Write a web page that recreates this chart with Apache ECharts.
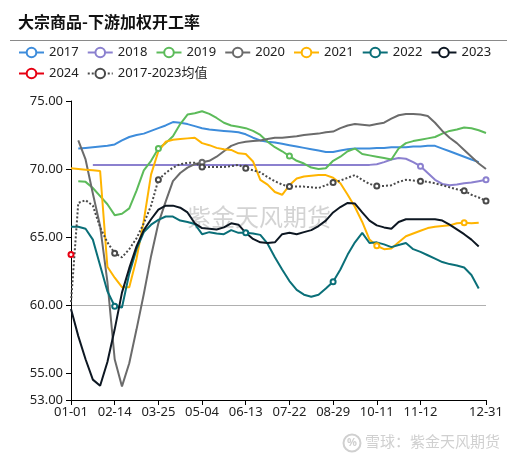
<!DOCTYPE html>
<html>
<head>
<meta charset="utf-8">
<script src="https://cdn.jsdelivr.net/npm/echarts@6/dist/echarts.min.js"></script>
<style>
html,body{margin:0;padding:0;background:#fff;}
#chart{width:517px;height:460px;}
</style>
</head>
<body>
<div id="chart"></div>
<script>
const dates = ['01-01','01-08','01-15','01-22','01-29','02-07','02-14','02-21','02-28','03-07','03-14','03-18','03-25','04-01','04-08','04-15','04-22','04-28','05-04','05-11','05-18','05-25','06-01','06-07','06-13','06-20','06-27','07-04','07-11','07-16','07-22','07-29','08-05','08-12','08-19','08-23','08-29','09-05','09-12','09-19','09-26','10-04','10-11','10-18','10-25','10-30','11-03','11-08','11-12','11-19','11-26','12-03','12-08','12-13','12-17','12-21','12-26','12-31'];

const yTickValues = [53, 55, 60, 65, 70, 75];
const seriesNames = ['2017','2018','2019','2020','2021','2022','2023','2024','2017-2023均值'];

const y2017 = [null,71.5,71.55,71.6,71.65,71.7,71.8,72.1,72.35,72.5,72.6,72.8,73.0,73.2,73.45,73.4,73.3,73.15,73.0,72.9,72.85,72.8,72.75,72.7,72.55,72.3,72.1,72.0,71.95,71.85,71.75,71.65,71.55,71.45,71.35,71.25,71.25,71.35,71.45,71.5,71.5,71.5,71.55,71.55,71.6,71.6,71.6,71.65,71.65,71.7,71.7,71.5,71.3,71.1,70.9,70.7,70.5,null];
const y2018 = [null,null,null,70.3,70.3,70.3,70.3,70.3,70.3,70.3,70.3,70.3,70.3,70.3,70.3,70.3,70.3,70.3,70.3,70.3,70.3,70.3,70.3,70.3,70.3,70.3,70.3,70.3,70.3,70.3,70.3,70.3,70.3,70.3,70.3,70.3,70.3,70.3,70.3,70.3,70.3,70.3,70.35,70.5,70.7,70.8,70.75,70.5,70.2,69.7,69.2,68.9,68.8,68.85,68.95,69.0,69.1,69.2];
const y2019 = [null,69.1,69.05,68.6,68.0,67.4,66.6,66.7,67.1,68.4,69.9,70.6,71.5,71.9,72.4,73.3,74.0,74.1,74.25,74.05,73.75,73.4,73.2,73.1,73.0,72.8,72.5,72.0,71.6,71.3,70.95,70.6,70.4,70.1,70.0,70.05,70.6,70.9,71.3,71.5,71.1,71.0,70.9,70.8,70.7,71.5,71.9,72.05,72.15,72.25,72.35,72.6,72.8,72.9,73.05,73.0,72.85,72.65];
const y2020 = [null,72.1,70.7,68.2,65.8,61.7,56.0,54.0,55.7,58.2,60.8,63.6,66.0,67.6,69.1,69.7,70.1,70.35,70.5,70.6,70.9,71.3,71.7,71.9,72.0,72.05,72.1,72.2,72.3,72.3,72.35,72.4,72.5,72.55,72.6,72.7,72.75,73.0,73.2,73.3,73.25,73.2,73.3,73.4,73.7,73.95,74.05,74.05,74.0,73.9,73.4,72.8,72.3,71.9,71.4,70.9,70.4,70.0];
const y2021 = [70.05,70.0,69.95,69.9,69.85,62.8,62.0,61.3,61.3,63.4,66.2,69.6,71.3,72.0,72.15,72.2,72.25,72.3,71.9,71.75,71.55,71.45,71.4,71.15,71.1,70.55,69.2,68.85,68.3,68.1,68.8,69.3,69.45,69.5,69.55,69.55,69.35,68.95,68.1,67.2,66.1,64.8,64.35,64.1,64.15,64.6,65.05,65.25,65.45,65.65,65.75,65.8,65.85,66.0,66.05,66.0,66.05,null];
const y2022 = [65.75,65.75,65.6,64.8,62.9,61.0,59.9,59.8,62.3,64.1,65.35,65.9,66.25,66.5,66.5,66.2,66.1,65.95,65.2,65.35,65.25,65.2,65.5,65.3,65.3,65.25,65.15,64.5,63.5,62.6,61.75,61.1,60.75,60.6,60.75,61.2,61.7,62.6,63.7,64.6,65.3,64.55,64.6,64.45,64.25,64.4,64.55,64.1,63.9,63.65,63.4,63.15,63.0,62.9,62.75,62.2,61.2,null];
const y2023 = [59.7,57.7,56.0,54.5,54.05,55.8,58.2,60.9,62.7,64.3,65.5,66.3,67.0,67.3,67.3,67.15,66.8,66.0,65.65,65.6,65.55,65.7,66.0,65.9,65.3,64.85,64.6,64.55,64.6,65.2,65.3,65.2,65.35,65.5,65.8,66.2,66.8,67.2,67.5,67.45,66.8,66.2,65.85,65.7,65.6,66.1,66.3,66.3,66.3,66.3,66.3,66.2,65.9,65.55,65.2,64.8,64.3,null];
const y2024 = [63.7];
const yAvg = [60.2,67.5,67.7,67.3,65.7,64.6,63.8,63.5,64.1,64.9,66.0,67.3,69.2,69.7,70.1,70.35,70.45,70.45,70.15,70.15,70.15,70.15,70.2,70.3,70.05,69.9,69.75,69.4,69.1,68.85,68.7,68.7,68.7,68.65,68.6,68.8,69.0,69.15,69.35,69.55,69.2,68.9,68.75,68.75,68.8,69.05,69.2,69.15,69.1,69.05,68.95,68.8,68.65,68.5,68.4,68.1,67.9,67.65];

// indices at which a hollow marker is visible in the reference
const marks2017 = [];
const marks2018 = [48, 57];
const marks2019 = [12, 30];
const marks2020 = [18];
const marks2021 = [42, 54];
const marks2022 = [6, 24, 36];
const marks2023 = [];
const marks2024 = [0];
const marksAvg = [6, 12, 18, 24, 30, 36, 42, 48, 54, 57];

const seriesData = [y2017,y2018,y2019,y2020,y2021,y2022,y2023,y2024,yAvg];
const seriesMarks = [marks2017,marks2018,marks2019,marks2020,marks2021,marks2022,marks2023,marks2024,marksAvg];
const colors = ['#3d8cdb','#8b80cf','#5cbb5a','#6b6b6b','#ffb400','#0a6f78','#0d1722','#e60012','#4a4a4a'];

const FONT = "'Noto Sans', 'Noto Sans CJK SC', sans-serif";
const labelIdx = function (i) { return (i % 6 === 0 && i <= 54) || i === dates.length - 1; };
const tickIdx = function (i) { return (i % 6 === 0 && i <= 48) || i === dates.length - 1; };

const chart = echarts.init(document.getElementById('chart'), null, {renderer: 'canvas'});

const series = seriesNames.map(function (name, k) {
  const mk = seriesMarks[k];
  return {
    name: name,
    type: 'line',
    data: seriesData[k],
    symbol: 'emptyCircle',
    symbolSize: function (v, p) { return mk.indexOf(p.dataIndex) >= 0 ? 5 : 0; },
    showSymbol: true,
    showAllSymbol: true,
    connectNulls: false,
    smooth: false,
    lineStyle: {width: 2, color: colors[k], type: k === 8 ? 'dotted' : 'solid'},
    itemStyle: {color: colors[k], borderWidth: 1},
    z: 3
  };
});

chart.setOption({
  animation: false,
  backgroundColor: '#fff',
  textStyle: {fontFamily: FONT},
  title: {
    text: '大宗商品-下游加权开工率',
    left: 18, top: 14, padding: 0,
    textStyle: {fontSize: 16, fontWeight: 'bold', color: '#111', fontFamily: "'Noto Sans CJK SC', sans-serif"}
  },
  legend: {
    data: seriesNames,
    left: 18, top: 46, right: 14, padding: 0,
    itemWidth: 25, itemHeight: 12, itemGap: 8,
    textStyle: {fontSize: 13, color: '#222', fontFamily: FONT}
  },
  grid: {left: 71, right: 31, top: 101, bottom: 60, containLabel: false},
  xAxis: {
    type: 'category',
    data: dates,
    boundaryGap: false,
    axisLine: {lineStyle: {color: '#000', width: 1}},
    axisTick: {show: true, interval: function (i) { return tickIdx(i); }, length: 5, lineStyle: {color: '#000'}},
    axisLabel: {
      interval: function (i) { return labelIdx(i); },
      formatter: function (v, i) { return i === 54 ? '' : v; },
      fontSize: 13, color: '#222', margin: 6, fontFamily: FONT
    },
    splitLine: {show: false}
  },
  yAxis: {
    type: 'value',
    min: 53, max: 75, interval: 1,
    axisLine: {show: true, lineStyle: {color: '#000', width: 1}},
    axisTick: {show: true, length: 5, customValues: yTickValues, lineStyle: {color: '#000'}},
    axisLabel: {
      customValues: yTickValues,
      formatter: function (v) { return yTickValues.indexOf(v) >= 0 ? v.toFixed(2) : ''; },
      fontSize: 13, color: '#222', margin: 8, fontFamily: FONT
    },
    splitLine: {show: true, lineStyle: {color: ['transparent','transparent','#b0b0b0','transparent','transparent'], width: 1}}
  },
  graphic: [
    {type: 'line', shape: {x1: 10, y1: 40.5, x2: 507, y2: 40.5}, style: {stroke: '#8a8a8a', lineWidth: 1}, z: 10},
    {type: 'text', left: 187, top: 205, z: 1,
      style: {text: '紫金天风期货', fontSize: 24, fill: 'rgba(150,150,150,0.42)', fontFamily: "'Noto Sans CJK SC', sans-serif"}},
    {type: 'circle', shape: {cx: 352, cy: 443, r: 8.5}, style: {fill: 'none', stroke: '#d0d0d0', lineWidth: 2}, z: 1},
    {type: 'text', left: 347, top: 437, z: 1,
      style: {text: '%', fontSize: 11, fill: '#d0d0d0', fontWeight: 'bold', fontFamily: FONT}},
    {type: 'text', left: 365, top: 434, z: 1,
      style: {text: '雪球：紫金天风期货', fontSize: 15, fill: '#d0d0d0', fontFamily: "'Noto Sans CJK SC', sans-serif"}}
  ],
  series: series
});
</script>
</body>
</html>
